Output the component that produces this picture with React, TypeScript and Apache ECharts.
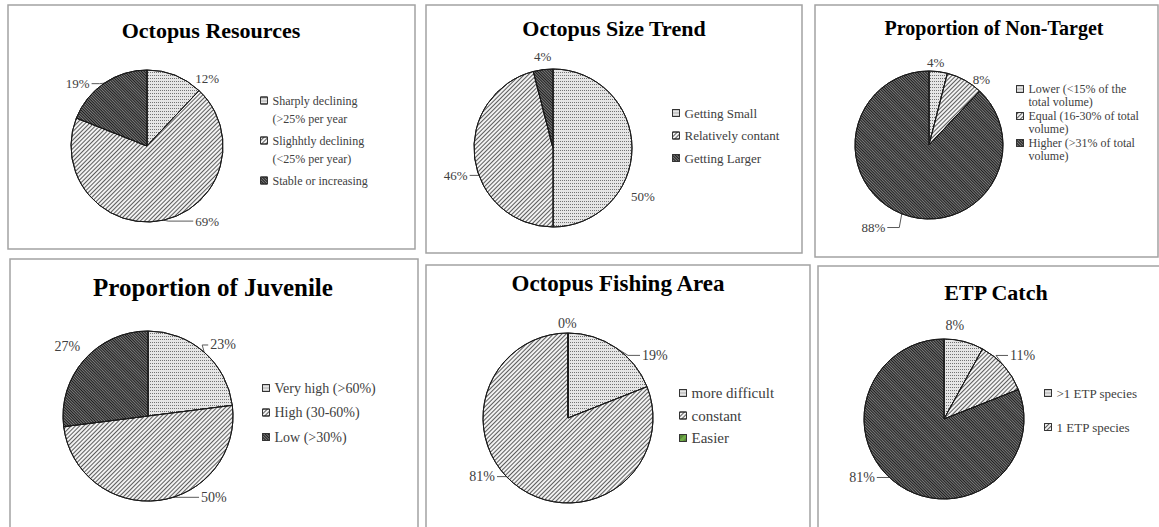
import React, { useEffect, useRef } from 'react';
import * as echarts from 'echarts';

// ---------- data ----------
const chartTitles = [
  'Octopus Resources',
  'Octopus Size Trend',
  'Proportion of Non-Target',
  'Proportion of Juvenile',
  'Octopus Fishing Area',
  'ETP Catch',
];

const resourcesCats = ['Sharply declining\n(>25% per year', 'Slighhtly declining\n(<25% per year)', 'Stable or increasing'];
const resourcesVals = [12, 69, 19];

const sizeCats = ['Getting Small', 'Relatively contant', 'Getting Larger'];
const sizeVals = [50, 46, 4];

const nonTargetCats = ['Lower (<15% of the\ntotal volume)', 'Equal (16-30% of total\nvolume)', 'Higher (>31% of total\nvolume)'];
const nonTargetVals = [4, 8, 88];

const juvenileCats = ['Very high (>60%)', 'High (30-60%)', 'Low (>30%)'];
const juvenileVals = [23, 50, 27];

const areaCats = ['more difficult', 'constant', 'Easier'];
const areaVals = [19, 81, 0];

const etpCats = ['>1 ETP species', '1 ETP species', 'No ETP species'];
const etpVals = [8, 11, 81];
const etpLegendCats = ['>1 ETP species', '1 ETP species'];

// ---------- styles / layout ----------
const FONT = '"Liberation Serif", "Times New Roman", serif';
const TEXT = '#404040';

const FILL_LIGHT = {
  color: '#e6e6e6',
  decal: { symbol: 'rect', symbolSize: 1, color: 'rgba(0,0,0,0.5)', dashArrayX: [1, 1], dashArrayY: [1, 2], rotation: 0 },
};
const FILL_MID = {
  color: '#f2f2f2',
  decal: { symbol: 'rect', symbolSize: 1, color: 'rgba(0,0,0,0.62)', dashArrayX: [1, 0], dashArrayY: [1, 2], rotation: -Math.PI / 4 },
};
const FILL_DARK = {
  color: '#7a7a7a',
  decal: { symbol: 'rect', symbolSize: 1, color: 'rgba(0,0,0,0.75)', dashArrayX: [1, 0], dashArrayY: [1, 1], rotation: Math.PI / 4 },
};
const FILL_GREEN = { color: '#70ad47', decal: 'none' };

type Panel = {
  cats: string[];
  vals: number[];
  legendCats: string[];
  fills: any[];
  box: number[];
  center: number[];
  r: number;
  title: number[]; // cx, cy, size
  legend: number[]; // left, top, fontSize, lineHeight, gap
  twoLine: boolean;
  labelSize: number;
  lines: boolean[];
  lens: number[][];
  nudge: number[][];
};

const panels: Panel[] = [
  {
    cats: resourcesCats, vals: resourcesVals, legendCats: resourcesCats,
    fills: [FILL_LIGHT, FILL_MID, FILL_DARK],
    box: [8, 5, 407, 244], center: [147, 146], r: 76,
    title: [211, 30, 22], legend: [260, 91, 12, 18, 3], twoLine: true, labelSize: 13,
    lines: [false, true, true], lens: [[6, 10], [3, 25], [3, 8]],
    nudge: [[6, 9], [4, -2], [-3, 3]],
  },
  {
    cats: sizeCats, vals: sizeVals, legendCats: sizeCats,
    fills: [FILL_LIGHT, FILL_MID, FILL_DARK],
    box: [426, 5, 376, 248], center: [553, 148], r: 79,
    title: [614, 28, 22], legend: [672, 105, 13, 16, 6.5], twoLine: false, labelSize: 13,
    lines: [false, true, false], lens: [[6, 10], [4, 10], [6, 6]],
    nudge: [[-19, 48], [9, 17], [17, -7]],
  },
  {
    cats: nonTargetCats, vals: nonTargetVals, legendCats: nonTargetCats,
    fills: [FILL_LIGHT, FILL_MID, FILL_DARK],
    box: [815, 5, 343, 252], center: [929, 145], r: 74,
    title: [994, 28, 20], legend: [1016, 82, 12, 13, 0], twoLine: true, labelSize: 13,
    lines: [false, false, true], lens: [[6, 6], [6, 6], [4, 12]],
    nudge: [[-20, -3], [-10, -1], [-1, 10]],
  },
  {
    cats: juvenileCats, vals: juvenileVals, legendCats: juvenileCats,
    fills: [FILL_LIGHT, FILL_MID, FILL_DARK],
    box: [10, 259, 408, 290], center: [148, 416], r: 85,
    title: [213, 287, 25], legend: [262, 379.5, 14, 17, 7.5], twoLine: false, labelSize: 14,
    lines: [true, true, false], lens: [[3, 6], [3, 25], [8, 10]],
    nudge: [[-4, -5], [15, -6], [14, -8]],
  },
  {
    cats: areaCats, vals: areaVals, legendCats: areaCats,
    fills: [FILL_LIGHT, FILL_MID, FILL_GREEN],
    box: [426, 265, 384, 290], center: [568, 418], r: 85,
    title: [618, 283, 23], legend: [679, 384.5, 15, 17, 5.5], twoLine: false, labelSize: 14,
    lines: [true, true, false], lens: [[4, 12], [4, 20], [6, 6]],
    nudge: [[10, 11], [-1, -15], [-18, -4]],
  },
  {
    cats: etpCats, vals: etpVals, legendCats: etpLegendCats,
    fills: [FILL_LIGHT, FILL_MID, FILL_DARK],
    box: [818, 266, 345, 290], center: [944, 419], r: 80,
    title: [996, 292, 22], legend: [1044, 385, 13, 16, 18], twoLine: false, labelSize: 14,
    lines: [false, true, true], lens: [[6, 6], [4, 12], [4, 20]],
    nudge: [[-28, -10], [-11, -8], [0, -11]],
  },
];

function buildOption() {
  const graphic: any[] = [];
  const legend: any[] = [];
  const series: any[] = [];

  panels.forEach((p, pi) => {
    graphic.push({
      type: 'rect',
      shape: { x: p.box[0], y: p.box[1], width: p.box[2], height: p.box[3] },
      style: { fill: 'none', stroke: '#a3a3a3', lineWidth: 1.5 },
      silent: true,
    });
    graphic.push({
      type: 'text',
      x: p.title[0],
      y: p.title[1],
      style: {
        text: chartTitles[pi],
        fontFamily: FONT,
        fontWeight: 'bold',
        fontSize: p.title[2],
        fill: '#000',
        align: 'center',
        verticalAlign: 'middle',
      },
      silent: true,
    });

    const [lx, ly, lfs, lh, lgap] = p.legend;
    const H = p.twoLine ? lh * 2 : 7;
    const icon = p.twoLine
      ? `path://M0,${lh / 2 - 3.5}h7v7h-7z M0,0 M7,${H}`
      : 'rect';
    legend.push({
      orient: 'vertical',
      left: lx,
      top: ly,
      padding: 0,
      itemWidth: 7,
      itemHeight: H,
      itemGap: lgap,
      selectedMode: false,
      icon,
      data: p.legendCats,
      formatter: p.twoLine ? (n: string) => (n.indexOf('\n') >= 0 ? n : n + '\n ') : '{name}',
      textStyle: { fontFamily: FONT, fontSize: lfs, lineHeight: lh, color: TEXT },
      itemStyle: { borderColor: '#333', borderWidth: 1 },
    });

    const nudge = p.nudge;
    series.push({
      type: 'pie',
      center: p.center,
      radius: p.r,
      startAngle: 90,
      clockwise: true,
      avoidLabelOverlap: true,
      emphasis: { disabled: true },
      itemStyle: { borderColor: '#1a1a1a', borderWidth: 1 },
      label: {
        show: true,
        position: 'outside',
        formatter: '{c}%',
        fontFamily: FONT,
        fontSize: p.labelSize,
        color: TEXT,
        distanceToLabelLine: 2,
      },
      labelLine: { show: true, lineStyle: { color: '#595959', width: 1 } },
      labelLayout: (params: any) => {
        const d = nudge[params.dataIndex] || [0, 0];
        const r = params.labelRect;
        const out: any = {
          x: r.x + r.width / 2 + d[0],
          y: r.y + r.height / 2 + d[1],
          align: 'center',
          verticalAlign: 'middle',
        };
        const pts = params.labelLinePoints;
        if (pts && pts.length === 3) {
          out.labelLinePoints = [
            [pts[0][0], pts[0][1]],
            [pts[1][0] + d[0], pts[1][1] + d[1]],
            [pts[2][0] + d[0], pts[2][1] + d[1]],
          ];
        }
        return out;
      },
      data: p.vals.map((v, i) => ({
        name: p.cats[i],
        value: v,
        itemStyle: { color: p.fills[i].color, decal: p.fills[i].decal },
        labelLine: { show: p.lines[i], length: p.lens[i][0], length2: p.lens[i][1] },
      })),
    });
  });

  return {
    animation: false,
    backgroundColor: '#fff',
    aria: { enabled: true, decal: { show: true } },
    graphic,
    legend,
    series,
  };
}

export default function App() {
  const ref = useRef<HTMLDivElement>(null);
  useEffect(() => {
    const chart = echarts.init(ref.current!, null, { renderer: 'svg' });
    chart.setOption(buildOption() as any);
    return () => chart.dispose();
  }, []);
  return (
    <div
      ref={ref}
      style={{ position: 'absolute', left: 0, top: 0, width: 1159, height: 527, background: '#fff' }}
    />
  );
}
